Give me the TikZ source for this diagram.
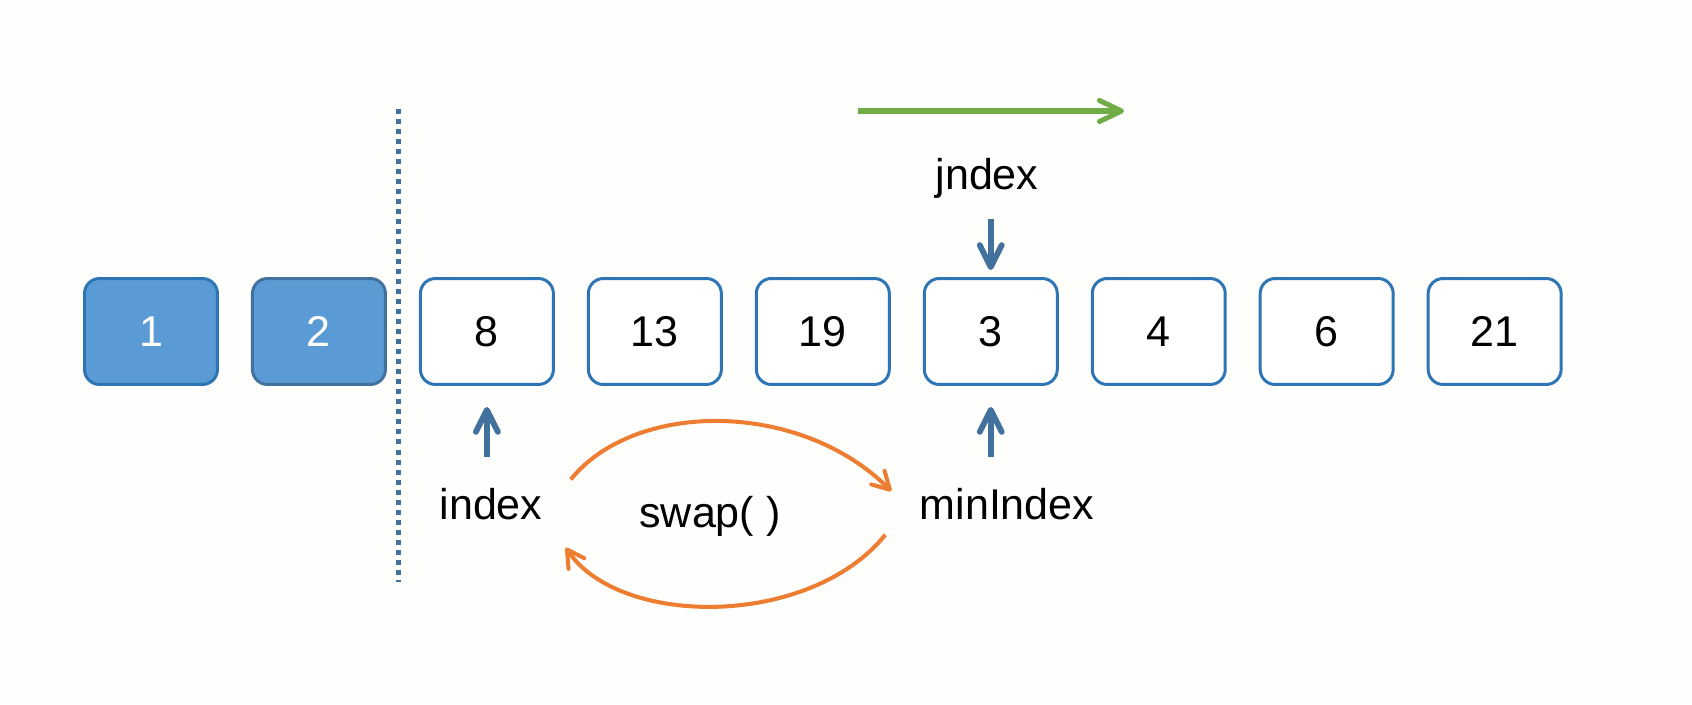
\documentclass[tikz,border=0pt]{standalone}
\usepackage{fontspec}
\setmainfont{Liberation Sans}
\usetikzlibrary{positioning,calc,arrows.meta}
\definecolor{cellfill}{RGB}{91,155,213}
\definecolor{cellline}{RGB}{46,117,182}
\definecolor{pointer}{RGB}{65,113,156}
\definecolor{swapline}{RGB}{237,125,49}
\definecolor{sweep}{RGB}{112,173,71}
\definecolor{paper}{RGB}{254,254,253}

\begin{document}
\begin{tikzpicture}[
			x=0.02cm, y=0.02cm,
			font=\fontsize{24.5pt}{29pt}\selectfont,
			node distance=0.64cm,
			cell/.style={draw=cellline, line width=1.7pt, rounded corners=0.3cm, fill=white, minimum width=2.66cm, minimum height=2.12cm, inner sep=0pt},
			done/.style={cell, fill=cellfill, text=white},
			tag/.style={inner sep=0pt, anchor=base},
			ptr/.style={-{Straight Barb[length=0.44cm, width=0.44cm, round]}, draw=pointer, line width=3.3pt},
			swp/.style={-{Straight Barb[length=0.34cm, width=0.38cm, round]}, draw=swapline, line width=2.3pt},
			scan/.style={-{Straight Barb[length=0.44cm, width=0.42cm, round]}, draw=sweep, line width=2.85pt}
		]

		\fill[paper] (0,0) rectangle (1692,704);
		\useasboundingbox (0,0) rectangle (1692,704);

		\node[done] (c1) at (151,372.5) {1};
		\node[done, draw=pointer, right=of c1] (c2) {2};
		\node[cell, right=of c2] (c8) {8};
		\node[cell, right=of c8] (c13) {13};
		\node[cell, right=of c13] (c19) {19};
		\node[cell, right=of c19] (c3) {3};
		\node[cell, right=of c3] (c4) {4};
		\node[cell, right=of c4] (c6) {6};
		\node[cell, right=of c6] (c21) {21};

		% sorted part | unsorted part
		\coordinate (divtop) at (398,595);
		\coordinate (divbot) at (398,122);
		\draw[pointer, line width=2.85pt, dash pattern=on 2.85pt off 2.85pt] (divtop) -- (divbot);

		\coordinate (scanfrom) at (858,593);
		\coordinate (scanto) at (1124,593);
		\draw[scan] (scanfrom) -- (scanto);

		\node[tag] (jidx) at (987,514) {jndex};
		\node[tag] (idx) at (491,185) {index};
		\node[tag] (midx) at (1007,185) {minIndex};
		\node[tag] (swaptxt) at (710,177) {swap( )};

		\draw[ptr, shorten <=0.4cm, shorten >=0.14cm] (jidx.south -| c3.north) -- (c3.north);
		\draw[ptr, shorten <=0.6cm, shorten >=0.42cm] (idx.north -| c8.south) -- (c8.south);
		\draw[ptr, shorten <=0.6cm, shorten >=0.42cm] (midx.north -| c3.south) -- (c3.south);

		\draw[swp] ($(idx.north east)+(28,8)$) .. controls (635,304) and (800,304) .. ($(midx.west)+(-28,12.5)$);
		\draw[swp] ($(midx.south west)+(-34,-15)$) .. controls (810,76) and (620,76) .. ($(idx.south east)+(23,-28)$);

	\end{tikzpicture}
\end{document}
